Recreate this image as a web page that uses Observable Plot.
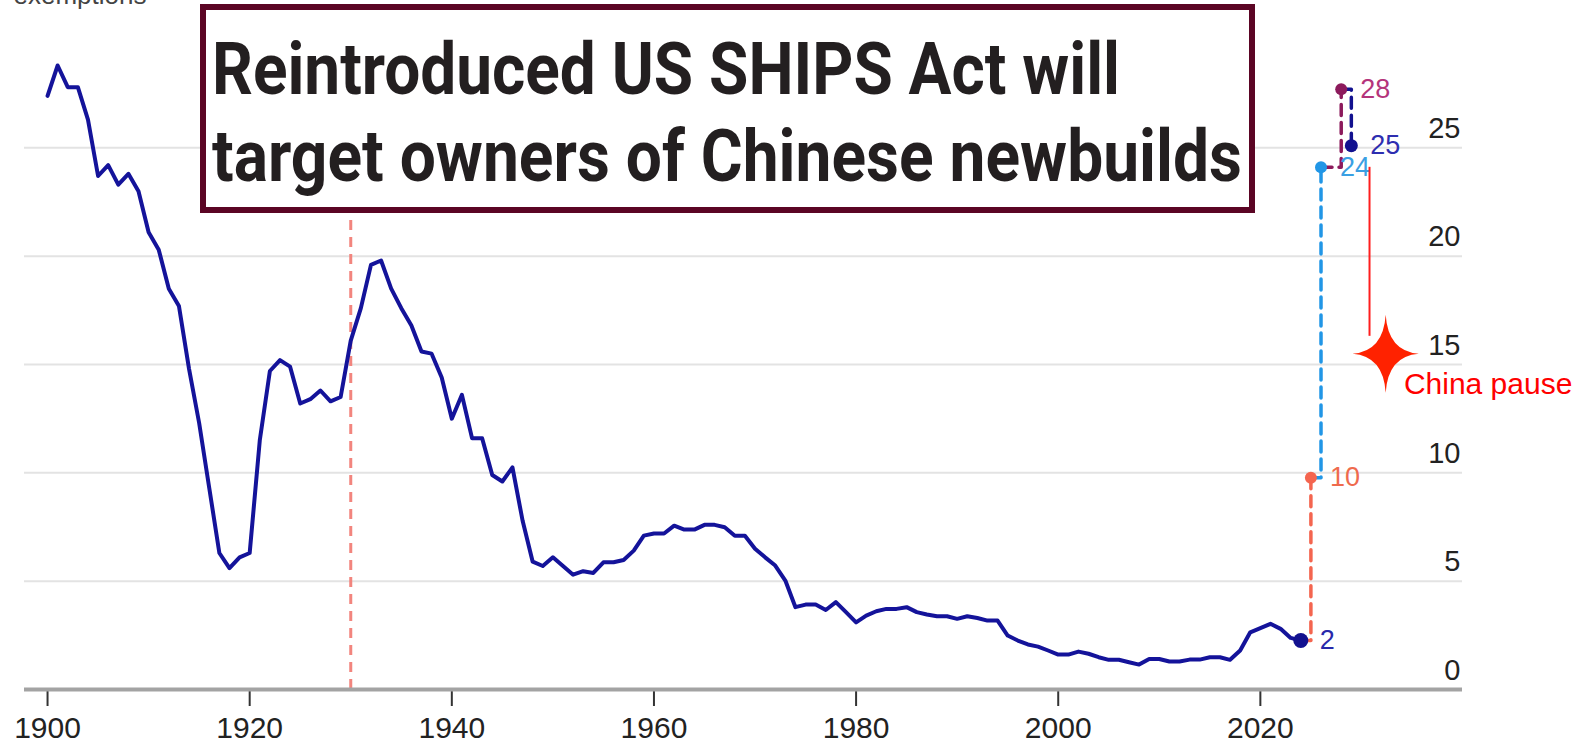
<!DOCTYPE html>
<html>
<head>
<meta charset="utf-8">
<script src="https://cdn.jsdelivr.net/npm/d3@7"></script>
<script src="https://cdn.jsdelivr.net/npm/@observablehq/plot@0.6"></script>
<style>
  body { margin: 0; background: #fff; }
  #wrap { position: relative; width: 1575px; height: 748px; overflow: hidden; background: #fff; }
  #title { position: absolute; left: 200px; top: 4px; width: 1055px; height: 209px; box-sizing: border-box;
           border: 6px solid #5b0524; background: #fff; }
  .tl { position: absolute; white-space: nowrap; font-family: Roboto, "Liberation Sans", sans-serif;
        font-weight: 700; font-size: 72px; line-height: 1; color: #231f20; transform-origin: 0 0; }
</style>
</head>
<body>
<div id="wrap"><div id="chart"></div><div id="title"></div></div>
<script>
// ---- data ----
const firstYear = 1900;
const seriesValues = [
  27.4, 28.8, 27.8, 27.8, 26.3, 23.7, 24.2, 23.3, 23.8, 23.0,   // 1900-1909
  21.1, 20.3, 18.5, 17.7, 14.8, 12.3, 9.3, 6.3, 5.6, 6.1,       // 1910-1919
  6.3, 11.5, 14.7, 15.2, 14.9, 13.2, 13.4, 13.8, 13.3, 13.5,    // 1920-1929
  16.1, 17.6, 19.6, 19.8, 18.5, 17.6, 16.8, 15.6, 15.5, 14.4,   // 1930-1939
  12.5, 13.6, 11.6, 11.6, 9.9, 9.6, 10.25, 7.8, 5.9, 5.7,       // 1940-1949
  6.1, 5.7, 5.3, 5.46, 5.38, 5.87, 5.87, 5.98, 6.41, 7.1,       // 1950-1959
  7.2, 7.2, 7.56, 7.38, 7.38, 7.6, 7.6, 7.49, 7.1, 7.1,         // 1960-1969
  6.5, 6.1, 5.72, 5.03, 3.8, 3.92, 3.92, 3.67, 4.03, 3.57,      // 1970-1979
  3.1, 3.41, 3.61, 3.72, 3.72, 3.8, 3.57, 3.46, 3.38, 3.38,     // 1980-1989
  3.26, 3.38, 3.3, 3.18, 3.18, 2.49, 2.26, 2.08, 1.98, 1.8,     // 1990-1999
  1.61, 1.61, 1.75, 1.65, 1.49, 1.37, 1.37, 1.26, 1.15, 1.41,   // 2000-2009
  1.41, 1.29, 1.29, 1.38, 1.38, 1.49, 1.49, 1.37, 1.8, 2.64,    // 2010-2019
  2.83, 3.03, 2.8, 2.38, 2.26                                   // 2020-2024
];
const endYears  = [2024, 2025, 2026, 2028, 2029];
const endValues = [2.26, 9.77, 24.1, 27.7, 25.1];
const endLabels = ["2", "10", "24", "28", "25"];
const endColors = ["#12118f", "#f4654f", "#2196e6", "#8c1a5c", "#12118f"];
const endLabelColors = ["#2828aa", "#ef6a4d", "#3aa0e3", "#b4347b", "#2e2eb0"];
const endRadius = [7.5, 6, 6, 6, 6.5];
const markerYear = [1930];
const xTicks = [1900, 1920, 1940, 1960, 1980, 2000, 2020];
const yTicks = [0, 5, 10, 15, 20, 25];
const pauseLineYear = [2030.8];
const pauseLineRange = [24.1, 16.3];
const pauseStarAt = [2032.4, 15.5];
const pauseLabelAt = [2034.2, 14.1];
const pauseLabel = ["China pause"];
const yUnitLabel = ["exemptions"];
const titleLines = ["Reintroduced US SHIPS Act will", "target owners of Chinese newbuilds"];

// ---- derived tables ----
const series = seriesValues.map((v, i) => ({year: firstYear + i, value: v}));
const ends = endYears.map((y, i) => ({year: y, value: endValues[i], label: endLabels[i], color: endColors[i],
                                       labelColor: endLabelColors[i], r: endRadius[i]}));
const steps = [];
for (let i = 1; i < ends.length; i++) {
  steps.push(Plot.line([ends[i - 1], ends[i]], {
    x: "year", y: "value", curve: "step-after", stroke: ends[i].color,
    strokeWidth: 3.5, strokeDasharray: "11,7"
  }));
}

const star4 = {
  draw(ctx, size) {
    const R = Math.sqrt(size / Math.PI);
    const rx = R * 0.85, ry = R, k = R * 0.1;
    ctx.moveTo(0, -ry);
    ctx.quadraticCurveTo(k * 0.6, -k * 0.6, rx, 0);
    ctx.quadraticCurveTo(k * 0.6, k * 0.6, 0, ry);
    ctx.quadraticCurveTo(-k * 0.6, k * 0.6, -rx, 0);
    ctx.quadraticCurveTo(-k * 0.6, -k * 0.6, 0, -ry);
    ctx.closePath();
  }
};

const chart = Plot.plot({
  width: 1575, height: 748,
  marginLeft: 24, marginRight: 113, marginTop: 39, marginBottom: 59,
  x: {domain: [1897.72, 2040], axis: null},
  y: {domain: [0, 30], axis: null},
  r: {type: "identity"},
  color: {type: "identity"},
  style: {fontFamily: '"Liberation Sans", Arial, sans-serif', background: "#fff", overflow: "visible"},
  marks: [
    Plot.ruleY(yTicks.filter(d => d > 0), {stroke: "#e3e3e3", strokeWidth: 2}),
    Plot.ruleX(markerYear, {y1: 0, y2: 30, stroke: "#f2857e", strokeWidth: 3, strokeDasharray: "10,7"}),
    Plot.axisX(xTicks, {tickSize: 17, tickPadding: 10, tickFormat: d => String(d), fontSize: 30, label: null,
                        stroke: "#333", strokeWidth: 2, fill: "#222"}),
    Plot.ruleY([0], {stroke: "#a3a3a3", strokeWidth: 4}),
    Plot.text(yTicks, {y: d => d, frameAnchor: "right", textAnchor: "end", dx: -2, dy: -19,
                       fontSize: 29, fill: "#222"}),
    Plot.text(yUnitLabel, {frameAnchor: "top-left", textAnchor: "start", lineAnchor: "bottom",
                           dx: -11, dy: -36, fontSize: 26, fill: "#444"}),
    Plot.line(series, {x: "year", y: "value", stroke: "#14139a", strokeWidth: 4, strokeLinejoin: "round"}),
    ...steps,
    Plot.dot(ends, {x: "year", y: "value", fill: "color", r: "r"}),
    Plot.text(ends, {x: "year", y: "value", text: "label", fill: "labelColor", dx: 19,
                     textAnchor: "start", fontSize: 27}),
    Plot.ruleX(pauseLineYear, {y1: pauseLineRange[0], y2: pauseLineRange[1], stroke: "#ff1e1e", strokeWidth: 2}),
    Plot.dot([pauseStarAt], {x: d => d[0], y: d => d[1], symbol: star4, r: 39, fill: "#ff2200", stroke: "none"}),
    Plot.text(pauseLabel, {x: () => pauseLabelAt[0], y: () => pauseLabelAt[1], textAnchor: "start",
                           fill: "#ff0000", fontSize: 30})
  ]
});
document.getElementById("chart").appendChild(chart);

// ---- title box overlay ----
const titleBox = document.getElementById("title");
const titleTargets = [{left: 6, top: 24.4, width: 908}, {left: 6, top: 110.9, width: 1030}];
titleLines.forEach((t, i) => {
  const el = document.createElement("div");
  el.className = "tl";
  el.textContent = t;
  el.style.left = titleTargets[i].left + "px";
  el.style.top = titleTargets[i].top + "px";
  titleBox.appendChild(el);
  const w = el.getBoundingClientRect().width;
  el.style.transform = `scaleX(${titleTargets[i].width / w})`;
});
</script>
</body>
</html>
